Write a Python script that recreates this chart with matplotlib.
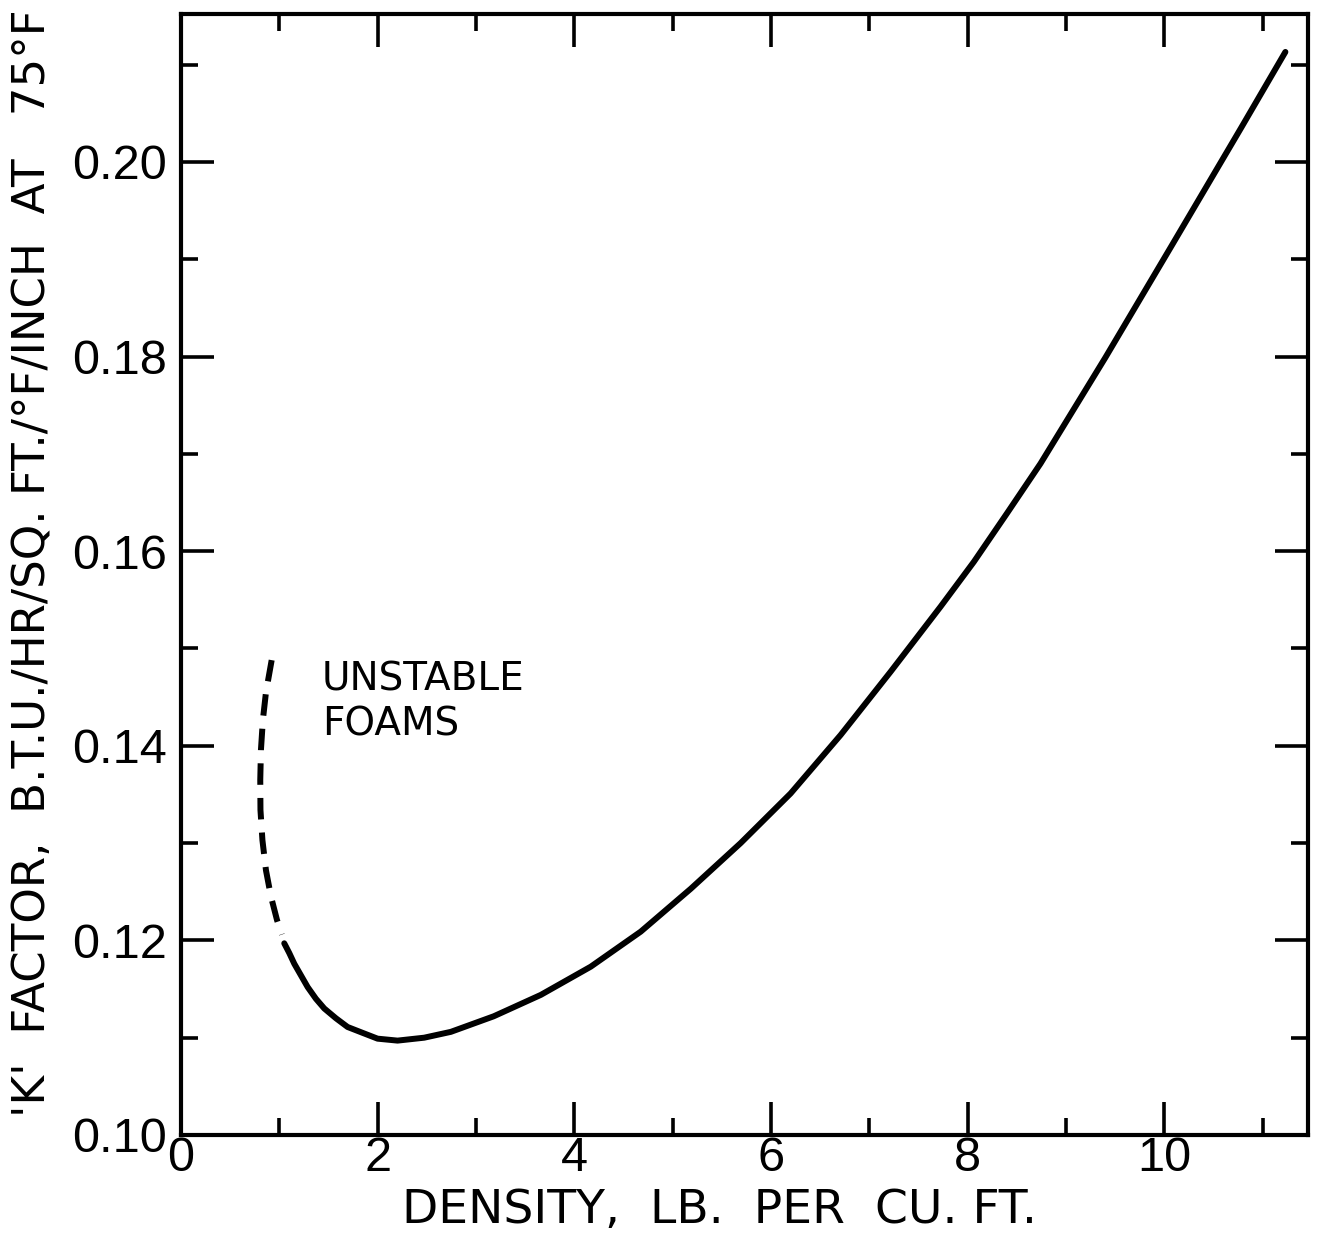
import numpy as np
import matplotlib
matplotlib.use("Agg")
import matplotlib.pyplot as plt
from matplotlib.ticker import MultipleLocator, FormatStrFormatter

# unstable foams, dashed part of the curve
dash_density = [0.922, 0.864, 0.833, 0.813, 0.806, 0.808, 0.828, 0.864, 0.915, 0.976, 1.026]
dash_k = [0.1488, 0.1455, 0.1427, 0.1396, 0.1365, 0.1334, 0.1303, 0.1272, 0.1245, 0.1221, 0.1206]

# stable foams, solid curve
density = [1.050, 1.101, 1.152, 1.220, 1.288, 1.372, 1.457, 1.575, 1.694, 1.846,
           1.999, 2.202, 2.473, 2.744, 3.18, 3.659, 4.167, 4.675, 5.183, 5.691,
           6.199, 6.707, 7.215, 7.724, 8.062, 8.40, 8.74, 9.40, 10.08, 10.78, 11.23]
k_factor = [0.1197, 0.1187, 0.1176, 0.1164, 0.1152, 0.1140, 0.1130, 0.1120, 0.1111, 0.1105,
            0.1099, 0.1097, 0.1100, 0.1106, 0.1122, 0.1144, 0.1173, 0.1209, 0.1253, 0.1300,
            0.1351, 0.1411, 0.1476, 0.1543, 0.1589, 0.1639, 0.1690, 0.1799, 0.1915, 0.2035,
            0.2113]

xlabel = "DENSITY,  LB.  PER  CU. FT."
ylabel = "'K'  FACTOR,  B.T.U./HR/SQ. FT./°F/INCH  AT   75°F"
note = "UNSTABLE\nFOAMS"

fig = plt.figure(figsize=(13.19, 12.5), dpi=100)
ax = fig.add_axes([181 / 1319, 1 - 1135 / 1250, 1127 / 1319, 1121 / 1250])

ax.plot(density, k_factor, color="black", lw=4.3, solid_capstyle="round", solid_joinstyle="round")
ax.plot(dash_density, dash_k, color="black", lw=4.3, dashes=(3.6, 2.2))

ax.set_xlim(0, 11.46)
ax.set_ylim(0.10, 0.2152)

ax.xaxis.set_major_locator(MultipleLocator(2))
ax.xaxis.set_minor_locator(MultipleLocator(1))
ax.yaxis.set_major_locator(MultipleLocator(0.02))
ax.yaxis.set_minor_locator(MultipleLocator(0.01))
ax.xaxis.set_major_formatter(FormatStrFormatter("%d"))
ax.yaxis.set_major_formatter(FormatStrFormatter("%.2f"))

ax.tick_params(which="both", direction="in", top=True, right=True, width=2.6, color="black")
ax.tick_params(which="major", length=24)
ax.tick_params(which="minor", length=12)
ax.tick_params(axis="x", which="major", pad=1)
ax.tick_params(axis="y", which="major", pad=10)

for lab in ax.get_xticklabels() + ax.get_yticklabels():
    lab.set_family("Liberation Sans")
    lab.set_fontsize(35)

for sp in ax.spines.values():
    sp.set_linewidth(3)

ax.set_xlabel(xlabel, fontsize=34, family="DejaVu Sans", va="top")
ax.xaxis.set_label_coords(0.478, -0.047)
ax.set_ylabel(ylabel, fontsize=32.5, family="DejaVu Sans")
ax.yaxis.set_label_coords(-0.112, 0.51)

ax.text(1.43, 0.1488, note, fontsize=28, va="top", ha="left", linespacing=1.25)

fig.savefig("out.png", dpi=100, facecolor="white")
